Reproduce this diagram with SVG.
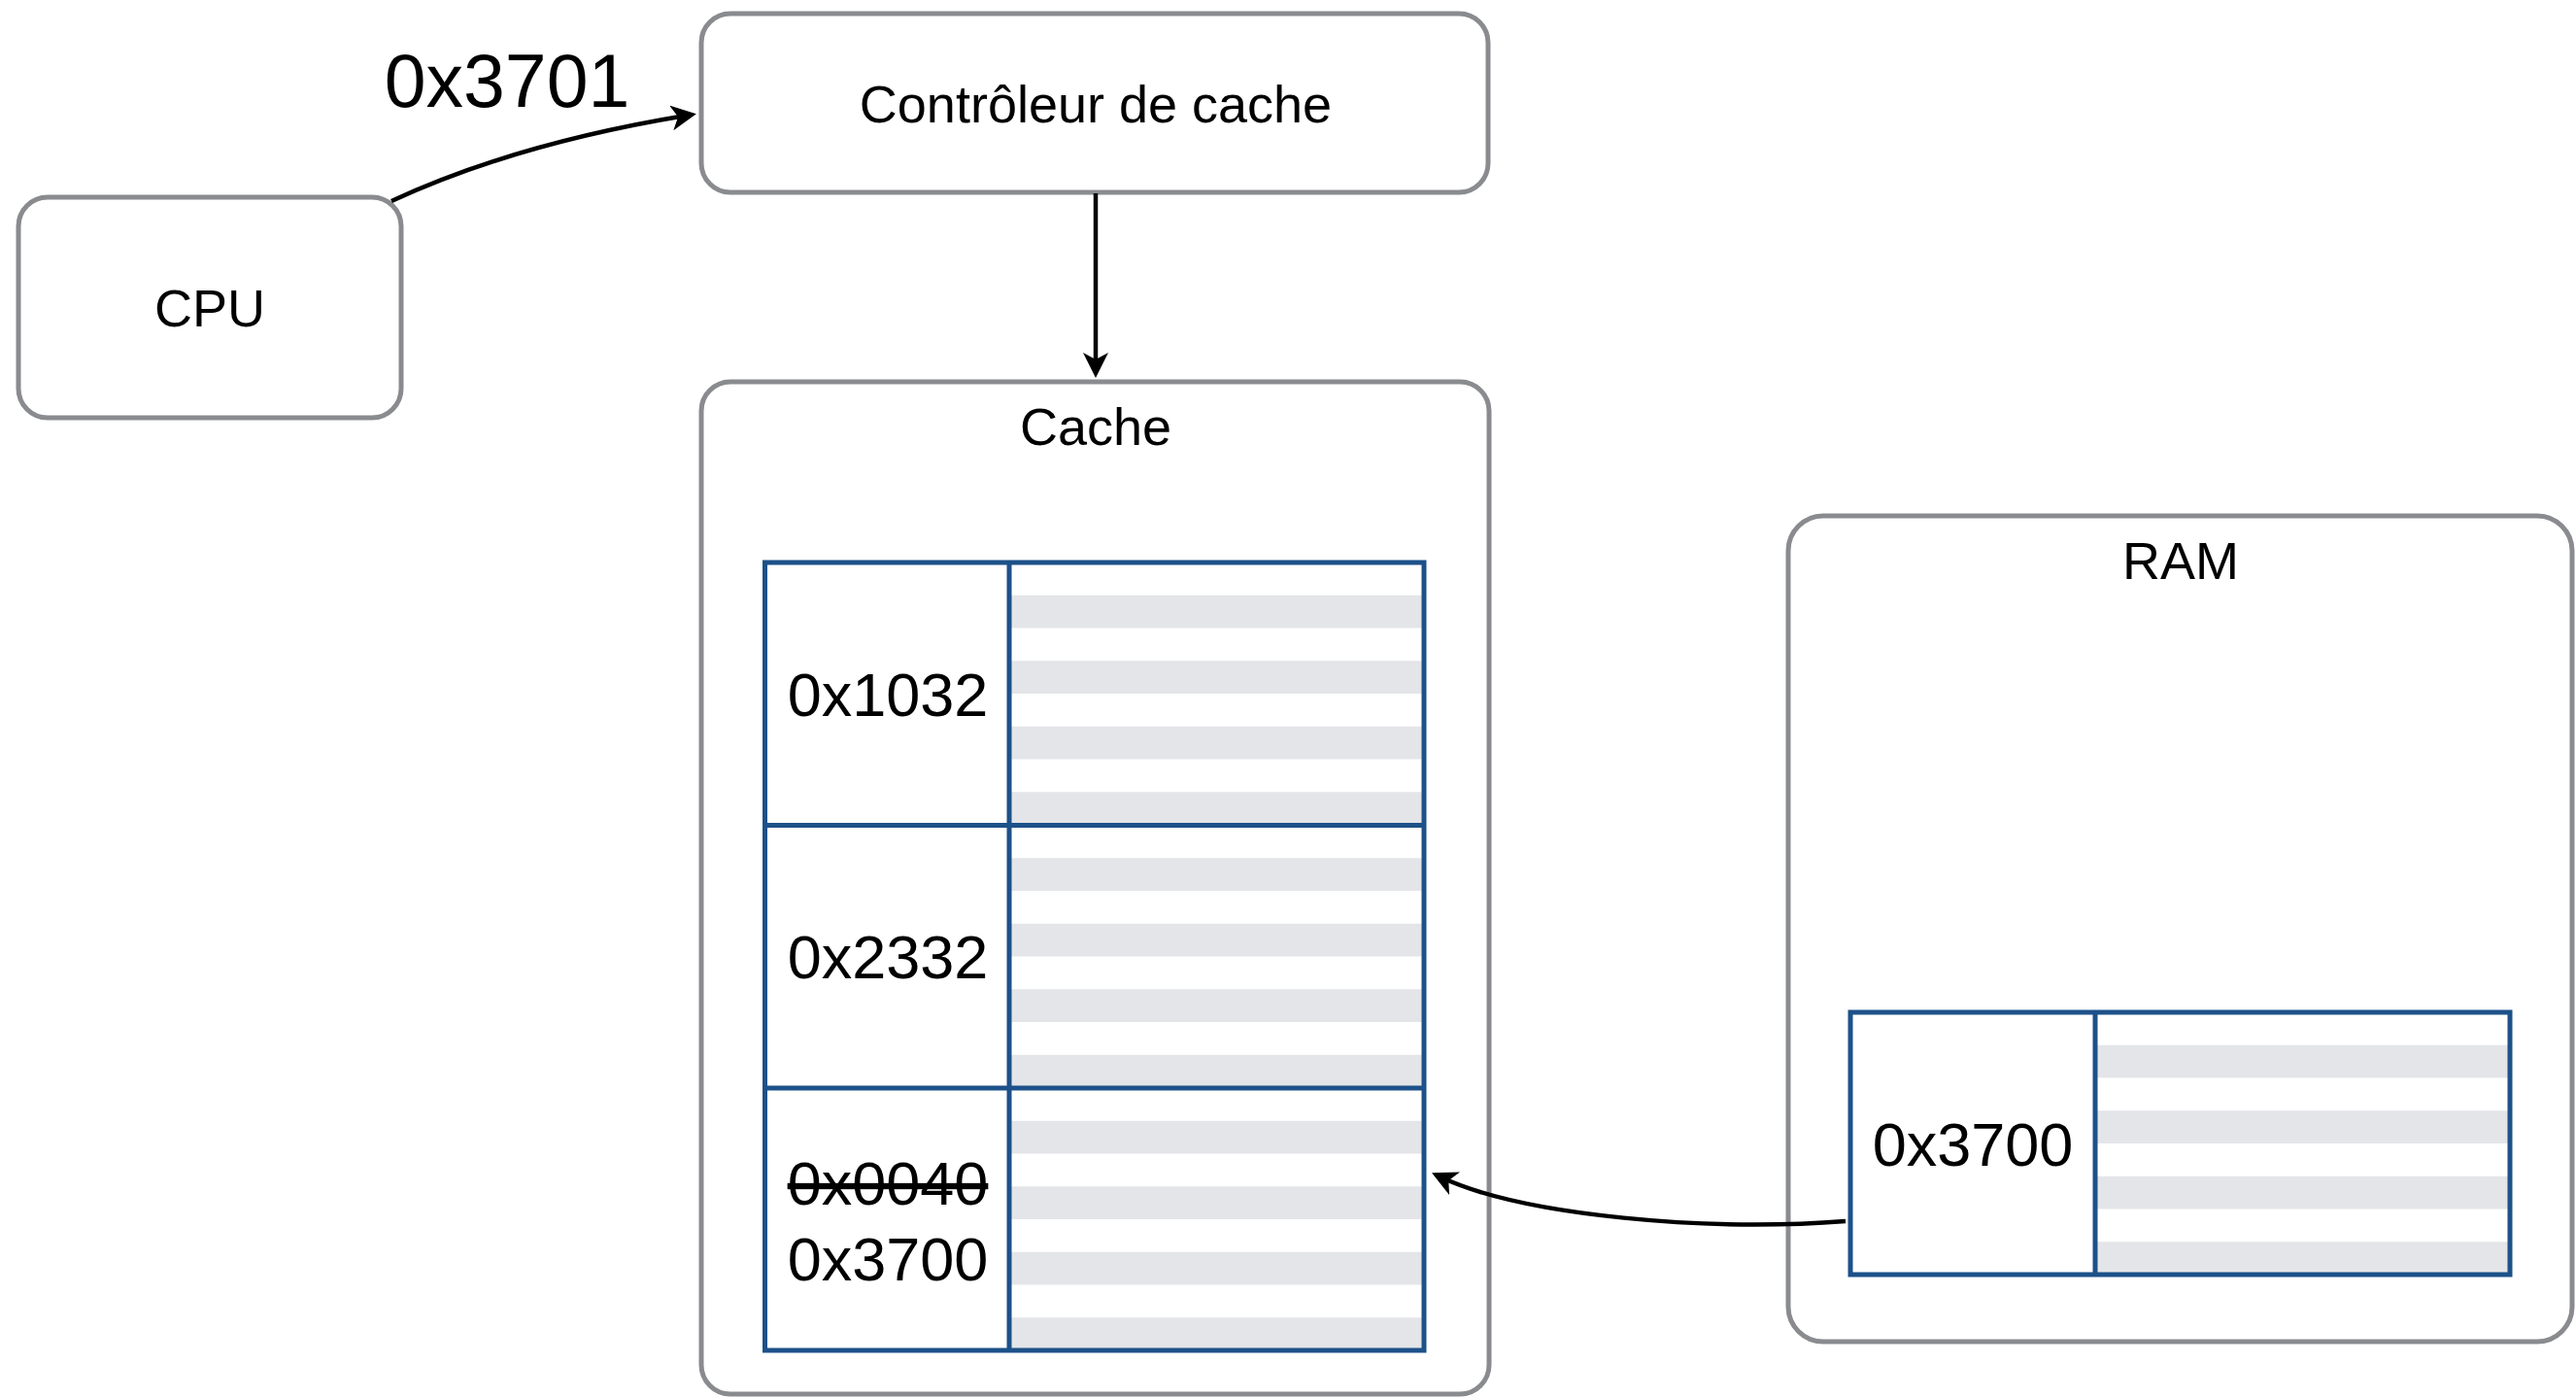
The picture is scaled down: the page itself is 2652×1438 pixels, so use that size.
<svg xmlns="http://www.w3.org/2000/svg" width="2652" height="1438" viewBox="0 0 2652 1438">
<style>
.box{fill:#ffffff;stroke:#898b8f;stroke-width:5}
.lbl{font-family:"Liberation Sans",Arial,Helvetica,sans-serif;font-size:54px;fill:#000;text-anchor:middle}
.addr{font-family:"Liberation Sans",Arial,Helvetica,sans-serif;font-size:63px;fill:#000;text-anchor:middle}
.stripe{fill:#e4e5e8}
.grid{fill:none;stroke:#1d5189;stroke-width:5}
.edge{fill:none;stroke:#000;stroke-width:4.5}
</style>
<defs>
<marker id="arr" viewBox="0 0 26 26" markerWidth="26" markerHeight="26" refX="15" refY="13" orient="auto" markerUnits="userSpaceOnUse">
<path d="M26,13 L0,0 L7,13 L0,26 Z" fill="#000"/>
</marker>
</defs>
<g id="cpu">
<rect class="box" x="19" y="203" width="394" height="227" rx="30"/>
<text class="lbl" x="216" y="336">CPU</text>
</g>
<g id="controller">
<rect class="box" x="722" y="14" width="810" height="184" rx="30"/>
<text class="lbl" x="1128" y="126">Contrôleur de cache</text>
</g>
<g id="cache">
<rect class="box" x="722" y="393" width="811" height="1042" rx="30"/>
<text class="lbl" x="1128" y="458">Cache</text>
<g id="cache-table">
<rect class="stripe" x="1039" y="612.75" width="427" height="33.75"/>
<rect class="stripe" x="1039" y="680.25" width="427" height="33.75"/>
<rect class="stripe" x="1039" y="747.75" width="427" height="33.75"/>
<rect class="stripe" x="1039" y="815.25" width="427" height="33.75"/>
<rect class="stripe" x="1039" y="883.25" width="427" height="33.75"/>
<rect class="stripe" x="1039" y="950.75" width="427" height="33.75"/>
<rect class="stripe" x="1039" y="1018.25" width="427" height="33.75"/>
<rect class="stripe" x="1039" y="1085.75" width="427" height="33.75"/>
<rect class="stripe" x="1039" y="1153.75" width="427" height="33.75"/>
<rect class="stripe" x="1039" y="1221.25" width="427" height="33.75"/>
<rect class="stripe" x="1039" y="1288.75" width="427" height="33.75"/>
<rect class="stripe" x="1039" y="1356.25" width="427" height="33.75"/>
<rect class="grid" x="787.5" y="579" width="678.5" height="811"/>
<line class="grid" x1="1039" y1="579" x2="1039" y2="1390"/>
<line class="grid" x1="787.5" y1="849.5" x2="1466" y2="849.5"/>
<line class="grid" x1="787.5" y1="1120" x2="1466" y2="1120"/>
<text class="addr" x="914" y="737">0x1032</text>
<text class="addr" x="914" y="1007">0x2332</text>
<text class="addr" x="914" y="1240" text-decoration="line-through">0x0040</text>
<text class="addr" x="914" y="1318">0x3700</text>
</g>
</g>
<g id="ram">
<rect class="box" x="1841" y="531" width="807" height="850" rx="36"/>
<text class="lbl" x="2245" y="596">RAM</text>
<g id="ram-block">
<rect class="stripe" x="2157" y="1075.75" width="427" height="33.75"/>
<rect class="stripe" x="2157" y="1143.25" width="427" height="33.75"/>
<rect class="stripe" x="2157" y="1210.75" width="427" height="33.75"/>
<rect class="stripe" x="2157" y="1278.25" width="427" height="33.75"/>
<rect class="grid" x="1905" y="1042" width="679" height="270"/>
<line class="grid" x1="2157" y1="1042" x2="2157" y2="1312"/>
<text class="addr" x="2031" y="1200">0x3700</text>
</g>
</g>
<g id="connectors">
<path class="edge" d="M403,207 Q530,148 706,119" marker-end="url(#arr)"/>
<text x="522" y="110" font-family="Liberation Sans,Arial,Helvetica,sans-serif" font-size="77" text-anchor="middle" fill="#000">0x3701</text>
<path class="edge" d="M1128,199 L1128,378" marker-end="url(#arr)"/>
<path class="edge" d="M1900,1257 C1760,1268 1570,1252 1484,1212" marker-end="url(#arr)"/>
</g>
</svg>
